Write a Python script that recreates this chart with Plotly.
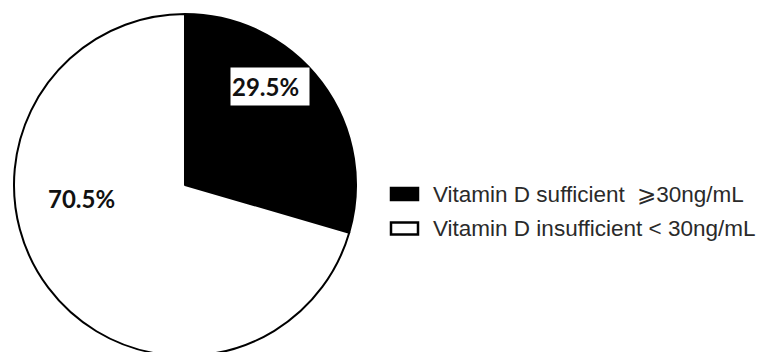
import plotly.graph_objects as go

# ---- data ----
categories = ["Vitamin D sufficient  \u2a7e30ng/mL", "Vitamin D insufficient < 30ng/mL"]
values = [29.5, 70.5]
slice_colors = ["#000000", "#ffffff"]
label_texts = [f"{v}%" for v in values]

W, H = 763, 360


def px(x):
    return x / W


def py(y):
    return 1 - y / H


cx, cy, r = 185, 185, 171

fig = go.Figure(
    go.Pie(
        values=values,
        labels=categories,
        sort=False,
        direction="clockwise",
        rotation=0,
        marker=dict(colors=slice_colors, line=dict(color="black", width=2)),
        textinfo="none",
        hoverinfo="skip",
        showlegend=False,
        domain=dict(x=[px(cx - r), px(cx + r)], y=[py(cy + r), py(cy - r)]),
    )
)

annotations = []
# percent labels
label_pos = [(230, 86.5, "left", "white"), (81, 198.5, "center", None)]
for txt, (lx, ly, anchor, bg) in zip(label_texts, label_pos):
    a = dict(
        x=px(lx), y=py(ly), xref="paper", yref="paper",
        text=f"<b>{txt}</b>", showarrow=False,
        xanchor=anchor, yanchor="middle",
        font=dict(family="Lato", size=24, color="#111111"),
    )
    if bg:
        a.update(bgcolor=bg, width=76, height=35, borderpad=1, align="left")
    annotations.append(a)

# custom legend
shapes = []
for i, (cat, col) in enumerate(zip(categories, slice_colors)):
    y0 = 187 + 34.5 * i
    shapes.append(dict(
        type="rect", xref="paper", yref="paper",
        x0=px(391), x1=px(418), y0=py(y0 + 13), y1=py(y0 + 1),
        fillcolor=col, line=dict(color="black", width=2.5),
    ))
    annotations.append(dict(
        x=px(431), y=py(y0 + 7), xref="paper", yref="paper",
        text=cat, showarrow=False, xanchor="left", yanchor="middle",
        font=dict(family="Liberation Sans, Arial", size=22.5, color="#2a2a2a"),
    ))

fig.update_layout(
    width=W, height=H,
    margin=dict(l=0, r=0, t=0, b=0),
    paper_bgcolor="white", plot_bgcolor="white",
    annotations=annotations, shapes=shapes,
    showlegend=False,
)

fig.write_html(
    "out.html",
    config={"displayModeBar": False},
    post_script="document.body.style.overflow='hidden';document.documentElement.style.overflow='hidden';document.body.style.margin='0';",
)
